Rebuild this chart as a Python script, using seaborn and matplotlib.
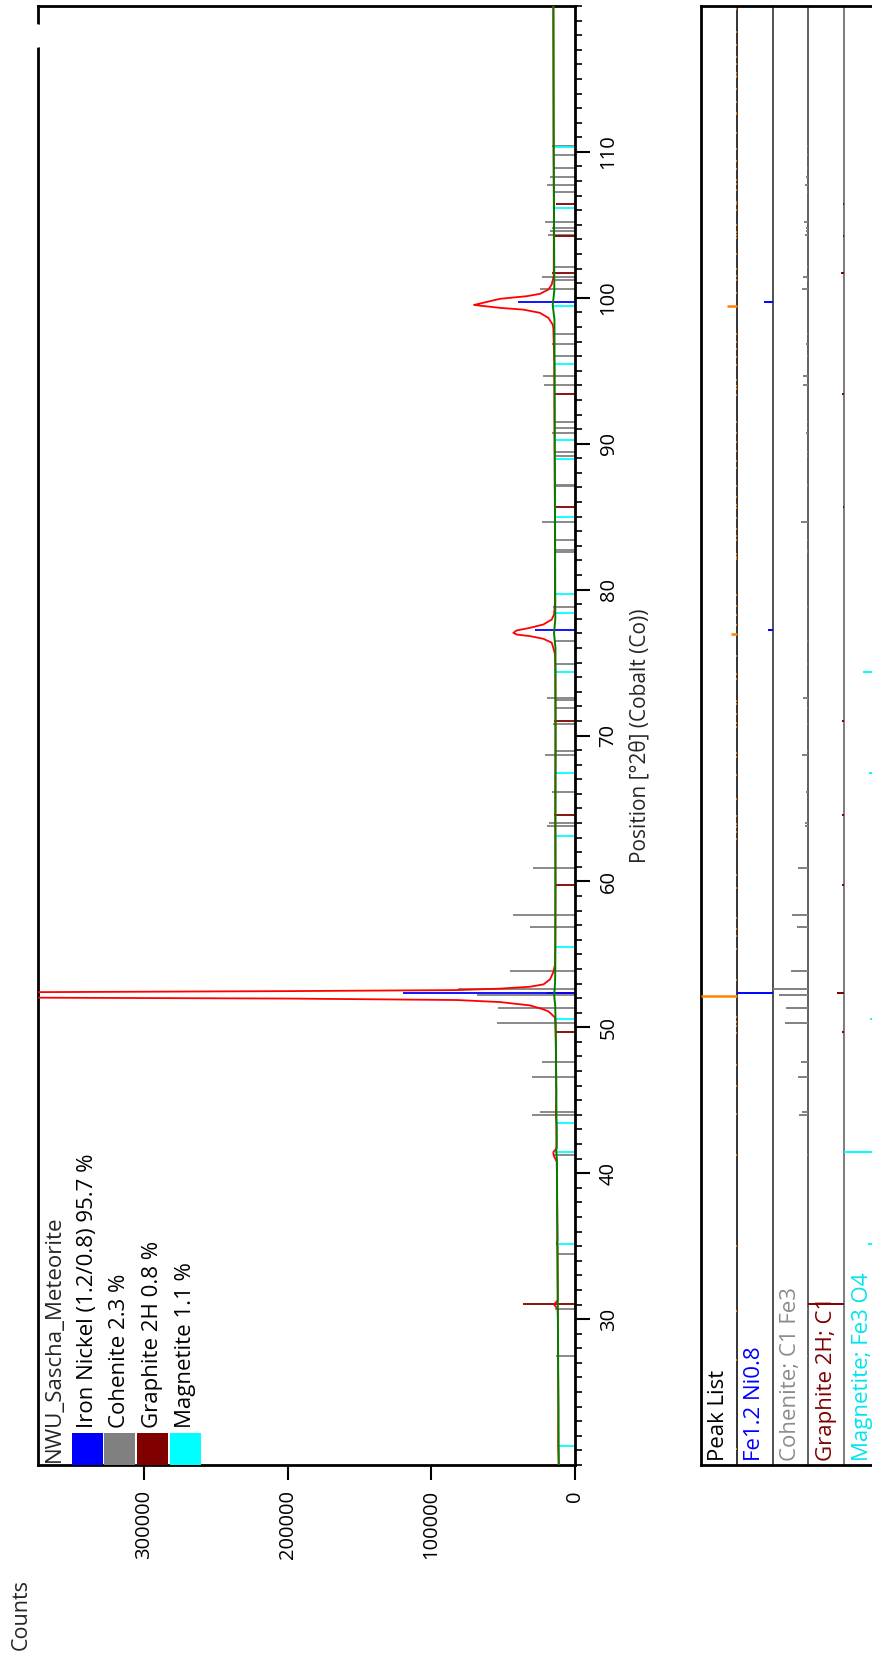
import matplotlib
matplotlib.use("Agg")
import matplotlib.pyplot as plt
import seaborn as sns
from matplotlib.patches import Rectangle
from matplotlib.lines import Line2D
from matplotlib.ticker import FixedLocator, MultipleLocator, FuncFormatter

# ---------------- data ----------------
# observed profile (red): 2theta, counts
obs_theta = [20.0, 21.3, 24.0, 27.0, 30.0, 30.7, 31.0, 31.3, 35.0, 35.2, 35.4, 40.8, 41.2, 41.45, 41.7,
             43.3, 44.0, 45.5, 48.0, 49.6, 50.3, 50.66, 51.0, 51.1, 51.23, 51.5, 51.73, 51.87, 51.97,
             52.03, 52.12, 52.22, 52.32, 52.41, 52.48, 52.55, 52.65, 52.78, 52.94, 53.28, 53.8, 54.3,
             56.0, 60.0, 64.5, 70.0, 74.4, 75.55, 76.01, 76.36, 76.63, 76.81, 76.92, 77.04, 77.2,
             77.38, 77.61, 77.95, 78.29, 79.0, 85.0, 90.0, 95.5, 97.94, 98.16, 98.62, 98.97, 99.19,
             99.31, 99.51, 99.93, 100.11, 100.27, 100.57, 100.91, 101.5, 106.0, 110.0, 115.0, 120.0]
obs_counts = [11300, 11700, 11600, 11800, 11900, 12100, 14600, 12000, 12200, 12700, 12200, 12700, 14800, 15100, 12900,
              12900, 13300, 13000, 13200, 13500, 13700, 13900, 17400, 18800, 22000, 31300, 52200, 82300, 200000,
              374000, 900000, 1200000, 900000, 374000, 200000, 82300, 52200, 31300, 22000, 17400, 15000, 13900,
              13700, 13600, 13800, 13600, 13700, 13900, 15100, 16200, 22000, 31300, 40600, 42900, 40600,
              31300, 22000, 16200, 14600, 14000, 14000, 14200, 14400, 15100, 15500, 18500, 24400, 36000,
              52200, 70300, 52200, 33600, 24400, 18500, 16200, 14800, 14700, 14900, 15000, 15100]

# background (green)
bg_theta = [20, 30, 41, 41.45, 42, 45, 50, 51.5, 52.2, 53, 54, 60, 70, 76, 77, 78, 85, 90, 98.5, 99.5, 100.5, 110, 120]
bg_counts = [11300, 11900, 12600, 13000, 12700, 13000, 13400, 13800, 14500, 13900, 13700, 13600, 13500, 13600,
             14600, 13700, 13900, 14100, 14300, 15500, 14400, 14800, 15000]

# reference sticks in main plot (position, counts) and relative heights for the peak-list panel
feni_pos = [52.37, 77.20, 99.69]
feni_len = [120000, 27800, 40000]
feni_rel = [1.0, 0.14, 0.23]

coh_pos = [27.47, 30.67, 34.44, 41.25, 43.96, 44.19, 46.59, 47.62, 50.29, 51.30, 52.21, 52.60, 53.83, 56.89,
           57.67, 60.94, 63.79, 64.02, 66.14, 68.63, 68.93, 70.76, 71.90, 72.40, 72.54, 74.92, 76.47, 78.82,
           82.56, 82.70, 83.37, 84.62, 87.13, 87.20, 89.14, 89.44, 90.74, 91.09, 91.50, 93.99, 94.62, 96.00,
           96.86, 97.50, 100.63, 101.25, 101.43, 102.09, 104.33, 104.56, 104.79, 105.18, 107.26, 107.76,
           108.31, 108.90, 109.79, 110.43]
coh_len = [13200, 13900, 12700, 15500, 30100, 24400, 29900, 23000, 54500, 53600, 68400, 81400, 45200, 31300,
           43100, 29200, 19300, 17900, 16200, 20600, 13200, 15500, 13200, 13200, 19700, 13200, 13900, 15100,
           13200, 13200, 13200, 23200, 14600, 14600, 13900, 13900, 16200, 13900, 13900, 21600, 22500, 14600,
           16200, 14600, 24400, 14600, 23200, 14600, 18500, 17400, 16200, 20900, 15000, 19500,
           17600, 15000, 15000, 16000]
coh_rel = [0.03, 0.03, 0.02, 0.05, 0.25, 0.18, 0.29, 0.20, 0.66, 0.63, 0.83, 1.00, 0.50, 0.31,
           0.47, 0.29, 0.10, 0.09, 0.06, 0.17, 0.03, 0.05, 0.03, 0.03, 0.15, 0.03, 0.04, 0.05,
           0.03, 0.03, 0.03, 0.20, 0.04, 0.04, 0.03, 0.03, 0.06, 0.03, 0.03, 0.14, 0.15, 0.04,
           0.06, 0.04, 0.18, 0.04, 0.16, 0.04, 0.10, 0.08, 0.06, 0.13, 0.04, 0.10,
           0.08, 0.04, 0.04, 0.05]

gra_pos = [31.01, 49.67, 52.33, 59.75, 64.57, 70.98, 85.67, 93.44, 101.68, 104.22, 106.46]
gra_len = [36000, 13900, 19700, 13900, 14600, 14600, 13200, 14600, 16200, 14600, 13200]
gra_rel = [1.0, 0.06, 0.19, 0.05, 0.06, 0.06, 0.03, 0.07, 0.08, 0.03, 0.03]

mag_pos = [21.30, 35.17, 41.48, 43.42, 50.54, 55.50, 63.10, 67.45, 74.37, 78.41, 79.73, 84.99, 88.96, 90.24,
           95.47, 99.42, 106.13, 110.31]
mag_len = [11600, 12300, 13900, 12500, 13700, 13700, 13200, 13200, 13200, 13900, 13200, 13200, 13200, 13200,
           13900, 14600, 14600, 15000]
mag_rel = [0.10, 0.33, 1.0, 0.08, 0.28, 0.04, 0.10, 0.30, 0.48, 0.04, 0.04, 0.05, 0.04, 0.05,
           0.05, 0.06, 0.05, 0.05]

# peak list (orange)
pk_pos = [21.09, 27.17, 30.53, 35.01, 41.24, 44.09, 46.00, 47.42, 49.59, 50.06, 50.38, 50.72, 52.16, 53.26,
          55.36, 56.28, 56.75, 57.51, 59.56, 60.42, 62.94, 63.41, 63.73, 63.94, 64.46, 65.67, 67.30, 68.50,
          68.79, 70.57, 70.83, 71.46, 72.14, 72.35, 73.90, 74.22, 75.48, 76.97, 77.55, 78.25, 78.88, 79.62,
          82.11, 82.24, 82.43, 83.37, 83.69, 84.16, 84.92, 85.60, 85.78, 86.36, 87.09, 88.35, 88.80, 89.53,
          90.15, 90.74, 91.50, 93.32, 93.78, 93.94, 94.38, 95.38, 95.92, 96.52, 96.98, 97.55, 99.47, 100.3,
          101.2, 101.5, 102.0, 103.0, 104.1, 104.3, 104.5, 105.0, 106.0, 106.4, 106.6, 107.4, 107.8, 108.1,
          108.8, 109.4, 110.2, 111.3, 112.6, 112.7, 113.4, 114.3, 115.1, 115.2, 115.4, 116.0, 116.5, 117.3,
          118.2, 119.8]
pk_rel = [0.03] * len(pk_pos)
pk_big_pos = [52.16, 76.97, 99.47]
pk_big_rel = [1.0, 0.16, 0.28]

legend_title = "NWU_Sascha_Meteorite"
legend_labels = ["Iron Nickel (1.2/0.8) 95.7 %", "Cohenite 2.3 %", "Graphite 2H 0.8 %", "Magnetite 1.1 %"]
phase_colors = ["#0000ff", "#808080", "#800000", "#00ffff"]
panel_labels = ["Peak List", "Fe1.2 Ni0.8", "Cohenite; C1 Fe3", "Graphite 2H; C1", "Magnetite; Fe3 O4"]
panel_colors = ["#000000", "#0000ff", "#8c8c8c", "#800000", "#00e5ee"]
count_ticks = [0, 100000, 200000, 300000]
pos_ticks = [30, 40, 50, 60, 70, 80, 90, 100, 110]

# ---------------- style ----------------
sns.set_theme(style="white")
plt.rcParams["font.family"] = ["Open Sans", "DejaVu Sans"]
plt.rcParams["axes.linewidth"] = 2.0

TICK_FS = 14.5
TEXT_FS = 16

W, H = 872, 1657
fig = plt.figure(figsize=(W / 100, H / 100), dpi=100)
fig.patch.set_facecolor("white")


def fx(px):
    return px / W


def fy(py):
    return 1 - py / H


AX_L, AX_R, AX_T, AX_B = 38, 575, 6, 1465
ax = fig.add_axes([fx(AX_L), fy(AX_B), (AX_R - AX_L) / W, (AX_B - AX_T) / H])
ax.set_facecolor("white")

# sticks
stick_lw = 1.3
ax.hlines(coh_pos, 0, coh_len, color="#808080", lw=stick_lw, zorder=2)
ax.hlines(mag_pos, 0, mag_len, color="#00ffff", lw=stick_lw, zorder=2)
ax.hlines(gra_pos, 0, gra_len, color="#800000", lw=stick_lw, zorder=2)
ax.hlines(feni_pos, 0, feni_len, color="#0000ff", lw=stick_lw, zorder=2)

sns.lineplot(x=obs_counts, y=obs_theta, sort=False, estimator=None, orient="y",
             color="#ff0000", lw=1.3, ax=ax, zorder=3)
sns.lineplot(x=bg_counts, y=bg_theta, sort=False, estimator=None, orient="y",
             color="#008000", lw=1.4, ax=ax, zorder=4)

ax.set_xlim(373700, 0)
ax.set_ylim(20, 120)
ax.set_xlabel("")
ax.set_ylabel("Position [°2θ] (Cobalt (Co))", fontsize=15, labelpad=8)
ax.yaxis.set_label_position("right")
ax.yaxis.tick_right()
ax.xaxis.set_major_locator(FixedLocator(count_ticks))
ax.xaxis.set_major_formatter(FuncFormatter(lambda v, p: f"{v:.0f}"))
ax.yaxis.set_major_locator(FixedLocator(pos_ticks))
ax.yaxis.set_minor_locator(MultipleLocator(1))
ax.tick_params(axis="x", bottom=True, direction="out", length=11, width=1.5, pad=7,
               labelsize=TICK_FS, labelrotation=90, colors="black")
ax.tick_params(axis="y", which="major", right=True, left=False, direction="out", length=11,
               width=1.5, pad=6, labelsize=TICK_FS, labelrotation=90, colors="black")
ax.tick_params(axis="y", which="minor", right=True, left=False, direction="out", length=5,
               width=1.2, colors="black")
for lbl in ax.get_yticklabels():
    lbl.set_va("center")
    lbl.set_ha("left")
for s in ax.spines.values():
    s.set_color("black")
    s.set_linewidth(2.0)
ax.grid(False)

# legend block
px0, pw, ptop = 71.7, 31.0, 1433
for i, (lab, col) in enumerate(zip(legend_labels, phase_colors)):
    x0 = px0 + i * (pw + 1.6)
    fig.add_artist(Rectangle((fx(x0), fy(AX_B)), pw / W, (AX_B - ptop) / H,
                             transform=fig.transFigure, facecolor=col, edgecolor="none", zorder=5))
    fig.text(fx(x0 + pw / 2), fy(ptop - 5), lab, rotation=90, ha="center", va="bottom",
             fontsize=TEXT_FS, color="black")
fig.text(fx(54), fy(1462), legend_title, rotation=90, ha="center", va="bottom", fontsize=TEXT_FS)

fig.text(fx(21), fy(1650), "Counts", rotation=90, ha="center", va="bottom", fontsize=15.5)

# gap in left spine
fig.add_artist(Line2D([fx(AX_L), fx(AX_L)], [fy(27), fy(45)], color="white", lw=4,
                      transform=fig.transFigure, zorder=10))

# ---------------- peak list panel ----------------
BW = 35.8
pax = fig.add_axes([fx(701), fy(AX_B), 5 * BW / W, (AX_B - AX_T) / H])
pax.set_xlim(0, 5)
pax.set_ylim(20, 120)
pax.set_xticks([])
pax.set_yticks([])
for s in pax.spines.values():
    s.set_color("black")
    s.set_linewidth(2.0)
div_cols = ["#111111", "#333333", "#444444", "#666666"]
for i, c in enumerate(div_cols):
    pax.axvline(i + 1, color=c, lw=1.2, zorder=1)

for i, (lab, col) in enumerate(zip(panel_labels, panel_colors)):
    pax.text(i + 0.5, 20.3, lab, rotation=90, ha="center", va="bottom", fontsize=TEXT_FS, color=col, zorder=2)

slw = 1.4
pax.hlines(pk_pos, [1 - r for r in pk_rel], 1, color="#ff8000", lw=slw, zorder=3)
pax.hlines(pk_big_pos, [1 - r for r in pk_big_rel], 1, color="#ff8000", lw=1.8, zorder=3)
pax.hlines(feni_pos, [2 - r for r in feni_rel], 2, color="#0000ff", lw=slw, zorder=3)
pax.hlines(coh_pos, [3 - r for r in coh_rel], 3, color="#808080", lw=slw, zorder=3)
pax.hlines(gra_pos, [4 - r for r in gra_rel], 4, color="#800000", lw=slw, zorder=3)
pax.hlines(mag_pos, [5 - r for r in mag_rel], 5, color="#00ffff", lw=slw, zorder=3)

fig.savefig("out.png", dpi=100, facecolor="white")
